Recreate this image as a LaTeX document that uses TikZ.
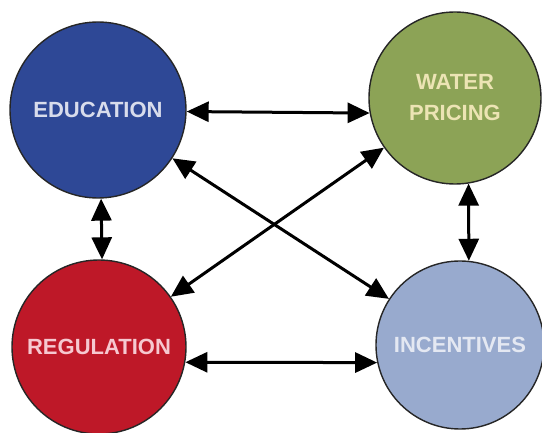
\documentclass[tikz,border=0pt]{standalone}
\usepackage{fontspec}
\setmainfont{Liberation Sans}
\usetikzlibrary{arrows.meta}
\definecolor{edublue}{RGB}{46,72,150}
\definecolor{watergreen}{RGB}{140,163,86}
\definecolor{regred}{RGB}{190,24,40}
\definecolor{incblue}{RGB}{152,170,206}
\definecolor{edutext}{RGB}{216,220,236}
\definecolor{watertext}{RGB}{236,228,180}
\definecolor{regtext}{RGB}{246,200,208}
\definecolor{inctext}{RGB}{228,232,242}
\tikzset{
  bubble/.style={circle, draw=black!85, line width=1.4pt, inner sep=0pt,
    font=\bfseries\fontsize{22}{31}\selectfont, align=center},
  arr/.style={line width=3pt, black, {Triangle[length=22pt,width=20pt]}-{Triangle[length=22pt,width=20pt]}}
}
\begin{document}
\begin{tikzpicture}[x=1pt,y=-1pt]
\useasboundingbox (0,0) rectangle (542,433);
\node[bubble, fill=edublue, text=edutext, minimum size=176pt] (edu) at (98,110) {EDUCATION};
\node[bubble, fill=watergreen, text=watertext, minimum size=172pt] (water) at (455,98) {WATER\\PRICING};
\node[bubble, fill=regred, text=regtext, minimum size=174pt] (reg) at (99,347) {REGULATION};
\node[bubble, fill=incblue, text=inctext, minimum size=168pt] (inc) at (460,345) {INCENTIVES};
\draw[arr] (edu.-1) -- (water.190);
\draw[arr] (reg.-10) -- (inc.192);
\draw[arr] (edu.-88) -- (reg.88);
\draw[arr] (water.-81) -- (inc.84);
\draw[arr] (edu) -- (inc);
\draw[arr] (water) -- (reg);
\end{tikzpicture}
\end{document}
